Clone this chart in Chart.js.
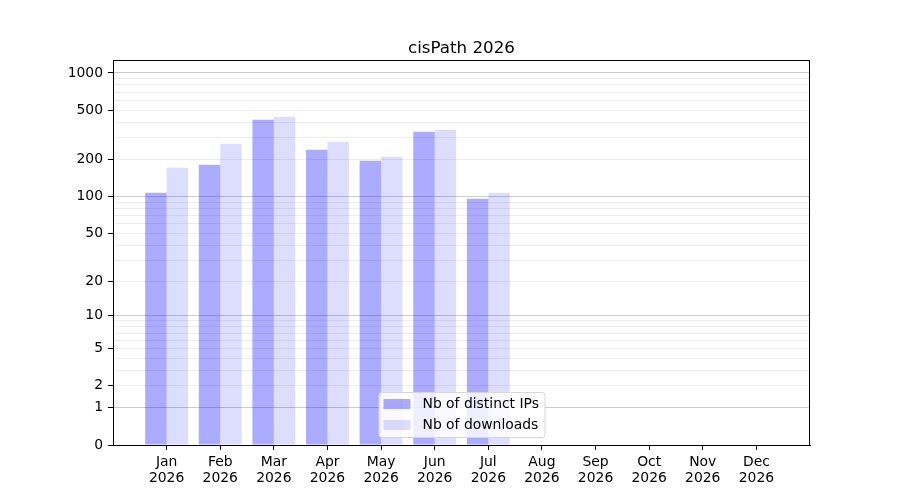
<!DOCTYPE html>
<html>
<head>
<meta charset="utf-8">
<title>cisPath 2026</title>
<script src="https://cdn.jsdelivr.net/npm/chart.js@4.4.1/dist/chart.umd.min.js"></script>
<style>
  body { margin: 0; background: #fff; }
  canvas { display: block; }
</style>
</head>
<body>
<canvas id="myChart" width="900" height="500"></canvas>
<script>
// data
const months = ['Jan', 'Feb', 'Mar', 'Apr', 'May', 'Jun', 'Jul', 'Aug', 'Sep', 'Oct', 'Nov', 'Dec']
const year = '2026'
const distinctIPs = [107, 181, 419, 240, 195, 335, 96, 0, 0, 0, 0, 0]
const downloads = [171, 268, 443, 278, 210, 348, 107, 0, 0, 0, 0, 0]
const yTickLabels = [0, 1, 2, 5, 10, 20, 50, 100, 200, 500, 1000]
const yMajor = [1, 10, 100, 1000]
const yMinor = [2, 3, 4, 5, 6, 7, 8, 9, 20, 30, 40, 50, 60, 70, 80, 90, 200, 300, 400, 500, 600, 700, 800, 900]
const yMax = 1272

const FONT = "'DejaVu Sans', sans-serif"

// y axis drawn as log10(1 + v), like the original
class Log1pScale extends Chart.Scale {
  determineDataLimits() {
    const { min, max } = this.getMinMax(true)
    this.min = this.options.min ?? Math.max(0, min)
    this.max = this.options.max ?? max
  }
  buildTicks() {
    const all = [0].concat(yMajor, yMinor).sort((a, b) => a - b)
    return all.filter(v => v >= this.min && v <= this.max).map(v => ({ value: v }))
  }
  getLabelForValue(value) {
    return String(value)
  }
  configure() {
    super.configure()
    this._start = Math.log10(1 + this.min)
    this._range = Math.log10(1 + this.max) - this._start
  }
  getPixelForValue(value) {
    if (value === undefined || value === null || isNaN(value)) return NaN
    return this.getPixelForDecimal((Math.log10(1 + value) - this._start) / this._range)
  }
  getValueForPixel(pixel) {
    return Math.pow(10, this._start + this.getDecimalForPixel(pixel) * this._range) - 1
  }
}
Log1pScale.id = 'log1p'
Log1pScale.defaults = {}
Chart.register(Log1pScale)

const ipColor = 'rgba(0, 0, 255, 0.33)'
const dlColor = 'rgba(0, 0, 255, 0.135)'

// title, full frame and legend box drawn like matplotlib
const framePlugin = {
  id: 'frame',
  afterDraw(chart) {
    const { ctx, chartArea: a } = chart
    ctx.save()
    ctx.fillStyle = '#000'
    ctx.font = '16.7px ' + FONT
    ctx.textAlign = 'center'
    ctx.textBaseline = 'alphabetic'
    ctx.fillText('cisPath 2026', (a.left + a.right) / 2, 52.5)

    ctx.strokeStyle = '#000'
    ctx.lineWidth = 1
    ctx.strokeRect(Math.round(a.left) + 0.5, Math.round(a.top) + 0.5,
      Math.round(a.right - a.left) - 1, Math.round(a.bottom - a.top))

    // legend, lower center
    const w = 166, h = 45
    const x = (a.left + a.right) / 2 - w / 2, y = a.bottom - 8 - h
    ctx.beginPath()
    ctx.roundRect(x + 0.5, y + 0.5, w, h, 3)
    ctx.fillStyle = 'rgba(255,255,255,0.8)'
    ctx.fill()
    ctx.strokeStyle = '#d6d6d6'
    ctx.stroke()
    const items = [[chart.data.datasets[0].label, ipColor], [chart.data.datasets[1].label, dlColor]]
    ctx.font = '13.9px ' + FONT
    ctx.textAlign = 'left'
    ctx.textBaseline = 'middle'
    items.forEach((it, i) => {
      const cy = y + 12 + i * 21
      ctx.fillStyle = it[1]
      ctx.fillRect(x + 5, cy - 5, 27, 10)
      ctx.fillStyle = '#000'
      ctx.fillText(it[0], x + 44, cy)
    })
    ctx.restore()
  }
}

const ctx = document.getElementById('myChart')
const myChart = new Chart(ctx, {
  type: 'bar',
  data: {
    datasets: [{
      label: 'Nb of distinct IPs',
      data: distinctIPs.map((v, i) => ({ x: i, y: v })),
      backgroundColor: ipColor,
      borderWidth: 0
    }, {
      label: 'Nb of downloads',
      data: downloads.map((v, i) => ({ x: i, y: v })),
      backgroundColor: dlColor,
      borderWidth: 0
    }]
  },
  options: {
    responsive: false,
    animation: false,
    devicePixelRatio: 1,
    layout: { padding: { top: 60, right: 90, left: 0, bottom: 0 } },
    datasets: { bar: { categoryPercentage: 0.8, barPercentage: 1.0 } },
    plugins: {
      legend: { display: false },
      title: { display: false },
      tooltip: { enabled: false }
    },
    scales: {
      x: {
        type: 'linear',
        min: -1,
        max: 12,
        offset: false,
        afterFit: s => { s.height = 55 },
        afterBuildTicks: s => { s.ticks = months.map((m, i) => ({ value: i })) },
        grid: { offset: false, drawOnChartArea: false, tickLength: 5, tickColor: '#000' },
        border: { color: '#000', width: 1 },
        ticks: {
          autoSkip: false,
          maxRotation: 0,
          padding: 4,
          color: '#000',
          font: { family: FONT, size: 13.9, lineHeight: 1.17 },
          callback: v => [months[v], year]
        }
      },
      y: {
        type: 'log1p',
        min: 0,
        max: yMax,
        afterFit: s => { s.width = 113 },
        grid: {
          tickLength: 5,
          color: c => yMajor.includes(c.tick.value) ? 'rgba(0,0,0,0.2)'
            : (c.tick.value === 0 ? 'rgba(0,0,0,0)' : 'rgba(0,0,0,0.07)'),
          tickColor: c => yTickLabels.includes(c.tick.value) ? '#000' : 'rgba(0,0,0,0)'
        },
        border: { color: '#000', width: 1 },
        ticks: {
          autoSkip: false,
          padding: 5,
          color: '#000',
          font: { family: FONT, size: 13.9 },
          callback: v => yTickLabels.includes(v) ? String(v) : ''
        }
      }
    }
  },
  plugins: [framePlugin]
})
</script>
</body>
</html>
